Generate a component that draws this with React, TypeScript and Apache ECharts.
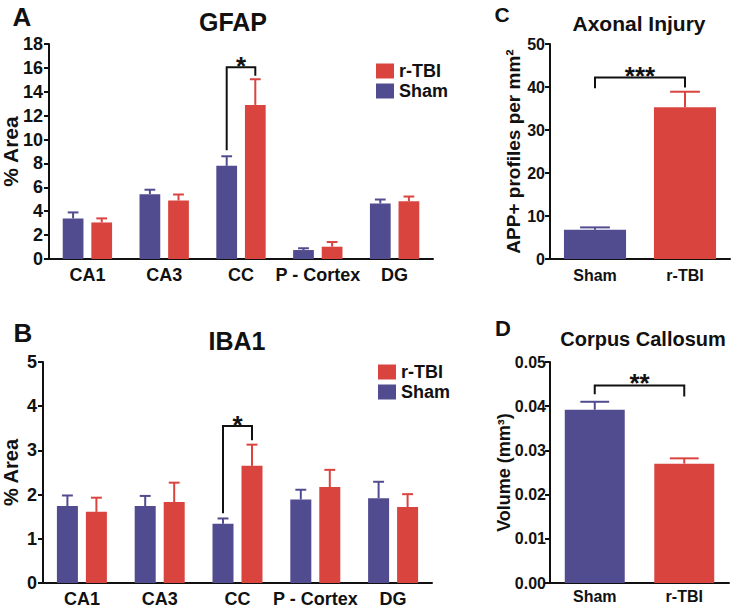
import React, { useEffect, useRef } from "react";
import * as echarts from "echarts";

// ---------- data ----------
const regions = ["CA1", "CA3", "CC", "P - Cortex", "DG"];
const groups = ["Sham", "r-TBI"];

const gfapSham = [3.4, 5.43, 7.8, 0.75, 4.65];
const gfapShamSem = [0.5, 0.37, 0.8, 0.15, 0.33];
const gfapTbi = [3.06, 4.9, 12.9, 1.03, 4.84];
const gfapTbiSem = [0.34, 0.5, 2.15, 0.39, 0.39];

const ibaSham = [1.74, 1.74, 1.34, 1.89, 1.92];
const ibaShamSem = [0.24, 0.23, 0.12, 0.22, 0.37];
const ibaTbi = [1.61, 1.83, 2.65, 2.17, 1.72];
const ibaTbiSem = [0.32, 0.44, 0.48, 0.39, 0.29];

const appValues = [6.8, 35.3];
const appSem = [0.55, 3.6];

const volValues = [0.0392, 0.027];
const volSem = [0.0018, 0.0012];

// brackets: [categoryIndex, leftLow, top, rightLow]
const gfapBracket = [2, 9.1, 16.05, 15.35];
const ibaBracket = [2, 1.58, 3.55, 3.23];
// brackets: [leftCat, rightCat, leftLow, top, rightLow]
const appBracket = [0, 1, 39.7, 42.2, 39.9];
const volBracket = [0, 1, 0.0427, 0.0447, 0.0422];

const gfapTicks = { min: 0, max: 18, interval: 2 };
const ibaTicks = { min: 0, max: 5, interval: 1 };
const appTicks = { min: 0, max: 50, interval: 10 };
const volTicks = { min: 0, max: 0.05, interval: 0.01 };

// ---------- style ----------
const FONT = "'Liberation Sans', Arial, Helvetica, sans-serif";
const PURPLE = "#514B8F";
const RED = "#D9443F";
const BLACK = "#111";

const GROUP_BAR = 0.27;
const GROUP_GAP = 0.38;

function errRender(color: string, sign: number, barFrac: number, gapFrac: number, capFrac: number) {
  return (params: any, api: any) => {
    const cat = api.value(0);
    const base = api.coord([cat, api.value(1)]);
    const top = api.coord([cat, api.value(2)]);
    const band = api.size([1, 0])[0];
    const bw = band * barFrac;
    const off = sign * (bw + bw * gapFrac) / 2;
    const x = base[0] + off;
    const half = bw * capFrac;
    const st = { stroke: color, lineWidth: 2 };
    return {
      type: "group",
      children: [
        { type: "line", shape: { x1: x, y1: base[1], x2: x, y2: top[1] }, style: st },
        { type: "line", shape: { x1: x - half, y1: top[1], x2: x + half, y2: top[1] }, style: st },
      ],
    };
  };
}

function groupBracketRender(label: string) {
  return (params: any, api: any) => {
    const cat = api.value(0);
    const band = api.size([1, 0])[0];
    const bw = band * GROUP_BAR;
    const off = (bw + bw * GROUP_GAP) / 2;
    const c = api.coord([cat, api.value(2)]);
    const l = api.coord([cat, api.value(1)]);
    const r = api.coord([cat, api.value(3)]);
    const x1 = c[0] - off;
    const x2 = c[0] + off;
    return {
      type: "group",
      children: [
        {
          type: "polyline",
          shape: { points: [[x1, l[1]], [x1, c[1]], [x2, c[1]], [x2, r[1]]] },
          style: { stroke: BLACK, lineWidth: 2, fill: null },
        },
        {
          type: "text",
          x: (x1 + x2) / 2,
          y: c[1] - 1,
          style: { text: label, font: `bold 26px ${FONT}`, textAlign: "center", textVerticalAlign: "middle", fill: BLACK },
        },
      ],
    };
  };
}

function pairBracketRender(label: string) {
  return (params: any, api: any) => {
    const l = api.coord([api.value(0), api.value(2)]);
    const t = api.coord([api.value(0), api.value(3)]);
    const r = api.coord([api.value(1), api.value(4)]);
    const x1 = l[0];
    const x2 = r[0];
    return {
      type: "group",
      children: [
        {
          type: "polyline",
          shape: { points: [[x1, l[1]], [x1, t[1]], [x2, t[1]], [x2, r[1]]] },
          style: { stroke: BLACK, lineWidth: 2, fill: null },
        },
        {
          type: "text",
          x: (x1 + x2) / 2,
          y: t[1] - 2,
          style: { text: label, font: `bold 26px ${FONT}`, textAlign: "center", textVerticalAlign: "middle", fill: BLACK },
        },
      ],
    };
  };
}

function xAxisOpt(gridIndex: number, data: string[], fontSize: number, margin: number) {
  return {
    type: "category",
    gridIndex,
    data,
    axisLine: { lineStyle: { color: BLACK, width: 2 } },
    axisTick: { alignWithLabel: true, length: 5, lineStyle: { color: BLACK, width: 2 } },
    axisLabel: { color: BLACK, fontSize, fontWeight: "bold", fontFamily: FONT, margin, interval: 0 },
  };
}

function yAxisOpt(gridIndex: number, ticks: any, name: string, nameGap: number, fontSize: number, nameSize: number, labelMargin: number, fmt?: (v: number) => string) {
  return {
    type: "value",
    gridIndex,
    ...ticks,
    name,
    nameLocation: "middle",
    nameGap,
    nameRotate: 90,
    nameMoveOverlap: false,
    nameTextStyle: { color: BLACK, fontSize: nameSize, fontWeight: "bold", fontFamily: FONT },
    axisLine: { show: true, lineStyle: { color: BLACK, width: 2 } },
    axisTick: { show: true, length: 5, lineStyle: { color: BLACK, width: 2 } },
    axisLabel: { color: BLACK, fontSize, fontWeight: "bold", fontFamily: FONT, margin: labelMargin, formatter: fmt },
    splitLine: { show: false },
  };
}

function groupedSeries(axis: number, sham: number[], shamSem: number[], tbi: number[], tbiSem: number[], bracket: number[], label: string) {
  const common = { type: "bar", xAxisIndex: axis, yAxisIndex: axis, barWidth: `${GROUP_BAR * 100}%`, barGap: `${GROUP_GAP * 100}%` };
  return [
    { ...common, name: "Sham", data: sham, itemStyle: { color: PURPLE } },
    { ...common, name: "r-TBI", data: tbi, itemStyle: { color: RED } },
    {
      type: "custom", name: "sham-err", xAxisIndex: axis, yAxisIndex: axis, clip: false,
      renderItem: errRender(PURPLE, -1, GROUP_BAR, GROUP_GAP, 0.26),
      data: sham.map((v, i) => [i, v, v + shamSem[i]]),
    },
    {
      type: "custom", name: "tbi-err", xAxisIndex: axis, yAxisIndex: axis, clip: false,
      renderItem: errRender(RED, 1, GROUP_BAR, GROUP_GAP, 0.26),
      data: tbi.map((v, i) => [i, v, v + tbiSem[i]]),
    },
    {
      type: "custom", name: "bracket", xAxisIndex: axis, yAxisIndex: axis, clip: false,
      renderItem: groupBracketRender(label),
      data: [bracket],
    },
  ];
}

function pairSeries(axis: number, values: number[], sem: number[], barFrac: number, bracket: number[], label: string) {
  const colors = [PURPLE, RED];
  return [
    {
      type: "bar", name: "pair", xAxisIndex: axis, yAxisIndex: axis, barWidth: `${barFrac * 100}%`,
      data: values.map((v, i) => ({ value: v, itemStyle: { color: colors[i] } })),
    },
    ...values.map((v, i) => ({
      type: "custom", name: "pair-err" + i, xAxisIndex: axis, yAxisIndex: axis, clip: false,
      renderItem: errRender(colors[i], 0, barFrac, 0, 0.24),
      data: [[i, v, v + sem[i]]],
    })),
    {
      type: "custom", name: "pair-bracket", xAxisIndex: axis, yAxisIndex: axis, clip: false,
      renderItem: pairBracketRender(label),
      data: [bracket],
    },
  ];
}

function heading(text: string, x: number, y: number, size: number) {
  return {
    type: "text",
    x, y,
    style: { text, font: `bold ${size}px ${FONT}`, textAlign: "center", textVerticalAlign: "middle", fill: BLACK },
  };
}

export default function App() {
  const ref = useRef<HTMLDivElement>(null);
  useEffect(() => {
    document.body.style.margin = "0";
    const chart = echarts.init(ref.current!, null, { renderer: "svg" });
    const legendBase = {
      data: ["r-TBI", "Sham"],
      orient: "vertical",
      icon: "rect",
      itemWidth: 18,
      itemHeight: 15,
      itemGap: 2,
      selectedMode: false,
      textStyle: { color: BLACK, fontSize: 18, fontWeight: "bold", fontFamily: FONT },
    };
    const g = { outerBoundsMode: "none", containLabel: false };
    chart.setOption({
      animation: false,
      backgroundColor: "#ffffff",
      grid: [
        { ...g, left: 49, top: 44, width: 384, height: 215 },
        { ...g, left: 43, top: 362, width: 389, height: 221 },
        { ...g, left: 550, top: 44, width: 180, height: 215 },
        { ...g, left: 550, top: 362, width: 179, height: 221 },
      ],
      legend: [
        { ...legendBase, left: 371, top: 57 },
        { ...legendBase, left: 373, top: 358 },
      ],
      xAxis: [
        xAxisOpt(0, regions, 18, 7),
        xAxisOpt(1, regions, 18, 7),
        xAxisOpt(2, groups, 16, 8),
        xAxisOpt(3, groups, 16, 5),
      ],
      yAxis: [
        yAxisOpt(0, gfapTicks, "% Area", 28, 18, 21, 6),
        yAxisOpt(1, ibaTicks, "% Area", 22, 18, 20, 6),
        yAxisOpt(2, appTicks, "APP+ profiles per mm²", 27, 16, 19, 5),
        yAxisOpt(3, volTicks, "Volume (mm³)", 37, 16, 18, 4, (v: number) => v.toFixed(2)),
      ],
      series: [
        ...groupedSeries(0, gfapSham, gfapShamSem, gfapTbi, gfapTbiSem, gfapBracket, "*"),
        ...groupedSeries(1, ibaSham, ibaShamSem, ibaTbi, ibaTbiSem, ibaBracket, "*"),
        ...pairSeries(2, appValues, appSem, 0.69, appBracket, "***"),
        ...pairSeries(3, volValues, volSem, 0.67, volBracket, "**"),
      ],
      graphic: [
        heading("A", 22, 17, 26),
        heading("GFAP", 233, 22, 25),
        heading("B", 23, 333, 26),
        heading("IBA1", 237, 341, 25),
        heading("C", 502, 14, 21),
        heading("Axonal Injury", 639, 23, 21),
        heading("D", 503, 328, 22),
        heading("Corpus Callosum", 643, 339, 20),
      ],
    });
    return () => chart.dispose();
  }, []);
  return <div ref={ref} style={{ width: 733, height: 608 }} />;
}
